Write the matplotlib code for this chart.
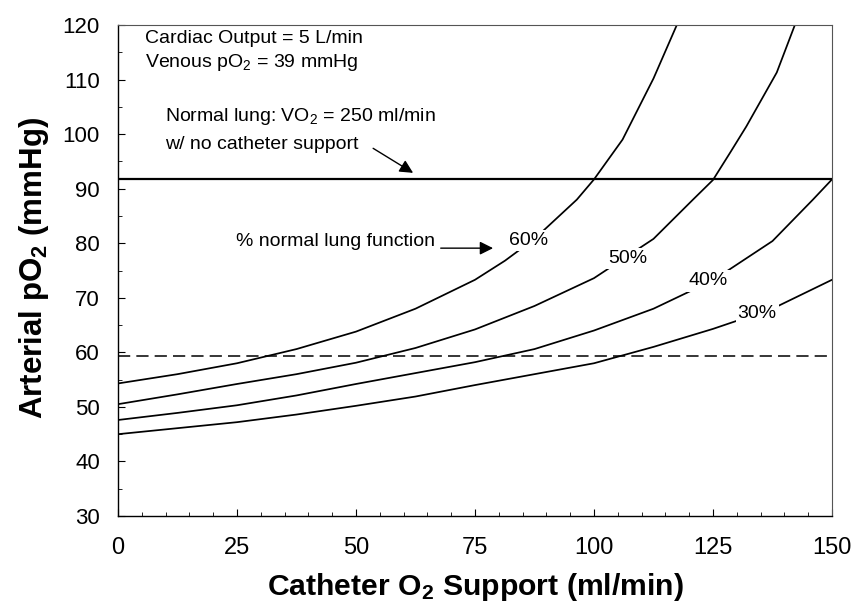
#!/usr/bin/env python3
"""Arterial pO2 vs catheter O2 support for several levels of lung function."""

import matplotlib

matplotlib.use("Agg")
import matplotlib.pyplot as plt
from matplotlib.ticker import MultipleLocator

plt.rcParams["font.family"] = ["Liberation Sans", "DejaVu Sans"]
plt.rcParams["mathtext.fontset"] = "custom"
plt.rcParams["mathtext.rm"] = "Liberation Sans"
plt.rcParams["mathtext.it"] = "Liberation Sans:italic"
plt.rcParams["mathtext.bf"] = "Liberation Sans:bold"

# --- data ------------------------------------------------------------------
x60 = [0, 12.5, 25, 37.5, 50, 62.5, 75, 81.3, 87.5, 96.4, 100, 106, 112.5, 117.4]
y60 = [54.3, 56.0, 58.0, 60.6, 63.8, 68.0, 73.3, 76.8, 80.8, 88.0, 91.7, 99.0, 110.2, 120.0]

x50 = [0, 12.5, 25, 37.5, 50, 62.5, 75, 87.5, 100, 112.5, 120.8, 125, 128.6, 132, 138.4, 142.2]
y50 = [50.5, 52.3, 54.2, 56.0, 58.1, 60.8, 64.2, 68.5, 73.6, 80.8, 88.0, 91.6, 96.6, 101.4, 111.3, 120.0]

x40 = [0, 12.5, 25, 37.5, 50, 62.5, 75, 87.5, 100, 112.5, 125, 137.5, 146, 150]
y40 = [47.6, 48.9, 50.3, 52.1, 54.2, 56.2, 58.2, 60.6, 64.0, 68.0, 73.2, 80.4, 88.0, 91.7]

x30 = [0, 12.5, 25, 37.5, 50, 62.5, 75, 87.5, 100, 112.5, 125, 137.5, 150]
y30 = [45.0, 46.1, 47.2, 48.6, 50.2, 51.9, 54.0, 56.0, 58.0, 61.0, 64.3, 68.0, 73.3]

curves = [(x60, y60), (x50, y50), (x40, y40), (x30, y30)]
curve_labels = ["60%", "50%", "40%", "30%"]
label_xy = [(86.3, 80.5), (107.0, 77.2), (124.0, 73.1), (134.3, 67.2)]

normal_lung_po2 = 91.7
threshold_po2 = 59.4

x_ticks = [0, 25, 50, 75, 100, 125, 150]
y_ticks = [30, 40, 50, 60, 70, 80, 90, 100, 110, 120]


def main() -> None:
    fig = plt.figure(figsize=(8.52, 6.06), dpi=100)
    ax = fig.add_axes([0.1385, 0.1485, 0.838, 0.8102])

    for xs, ys in curves:
        ax.plot(xs, ys, color="black", lw=1.25, solid_joinstyle="round")

    for text, (lx, ly) in zip(curve_labels, label_xy):
        ax.text(lx, ly, text, fontsize=14, ha="center", va="center",
                bbox=dict(facecolor="white", edgecolor="none", pad=1.5), zorder=5)

    ax.axhline(normal_lung_po2, color="black", lw=1.6)
    ax.axhline(threshold_po2, color="black", lw=1.1, ls=(0, (8, 4)))

    ax.text(5.7, 117.5, "Cardiac Output = 5 L/min", fontsize=14, va="center")
    ax.text(5.7, 113.1, r"Venous pO$_2$ = 39 mmHg", fontsize=14, va="center")
    ax.text(9.9, 103.2, r"Normal lung: VO$_2$ = 250 ml/min", fontsize=14, va="center")
    ax.text(9.9, 98.1, "w/ no catheter support", fontsize=14, va="center")
    ax.annotate("", xy=(62.0, 92.9), xytext=(53.6, 97.4),
                arrowprops=dict(arrowstyle="-|>", color="black", lw=1.0,
                                mutation_scale=20, shrinkA=0, shrinkB=0))

    ax.text(24.8, 80.3, "% normal lung function", fontsize=14, va="center")
    ax.annotate("", xy=(78.8, 79.1), xytext=(67.8, 79.1),
                arrowprops=dict(arrowstyle="-|>", color="black", lw=1.0,
                                mutation_scale=20, shrinkA=0, shrinkB=0))

    ax.set_xlim(0, 150)
    ax.set_ylim(30, 120)
    ax.set_xticks(x_ticks)
    ax.set_yticks(y_ticks)
    ax.xaxis.set_minor_locator(MultipleLocator(5))
    ax.yaxis.set_minor_locator(MultipleLocator(5))
    ax.tick_params(which="both", direction="in", top=False, right=False)
    ax.tick_params(which="major", length=5, width=0.8)
    ax.tick_params(which="minor", length=3, width=0.6)
    ax.tick_params(axis="x", labelsize=17, pad=15)
    ax.tick_params(axis="y", labelsize=16, pad=13)

    for side in ("left", "bottom"):
        ax.spines[side].set_linewidth(1.0)
    for side in ("top", "right"):
        ax.spines[side].set_color("#555555")
        ax.spines[side].set_linewidth(0.8)

    fig.text(0.5575, 1 - 587 / 606, r"Catheter O$_\mathbf{2}$ Support (ml/min)",
             fontsize=21.7, fontweight="bold", ha="center", va="center")
    fig.text(0.040, 1 - 268 / 606, r"Arterial pO$_\mathbf{2}$ (mmHg)",
             fontsize=22.5, fontweight="bold", ha="center", va="center", rotation=90)

    fig.savefig("out.png", dpi=100)


if __name__ == "__main__":
    main()
